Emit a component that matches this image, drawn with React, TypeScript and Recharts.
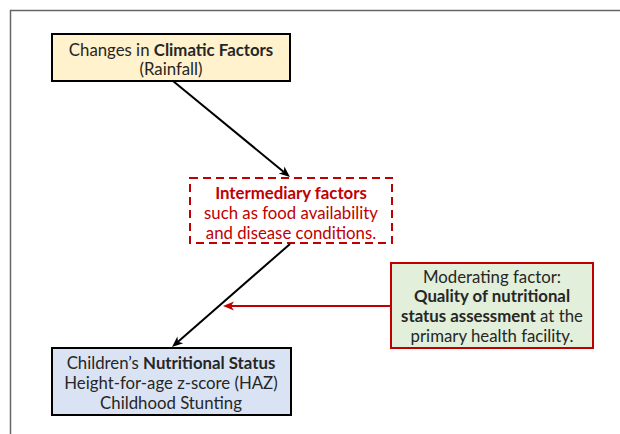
import React from 'react';
import { ScatterChart, Scatter, XAxis, YAxis, ReferenceArea, ReferenceLine } from 'recharts';

// box outlines, in page pixels (the axes map 1:1 onto the 620x434 canvas)
const boxes = [
  { id: 'climate', x1: 52, x2: 290, y1: 34, y2: 81, fill: '#FFF2CC', stroke: '#000000', dash: '' },
  { id: 'inter', x1: 190, x2: 392, y1: 178, y2: 243, fill: 'none', stroke: '#C00000', dash: '8 5' },
  { id: 'moder', x1: 391, x2: 593, y1: 263, y2: 348, fill: '#E2EFDA', stroke: '#C00000', dash: '' },
  { id: 'status', x1: 52, x2: 291, y1: 348, y2: 415, fill: '#DAE3F3', stroke: '#000000', dash: '' },
];

// text blocks: centre of first line + lines; **x** marks bold runs
const labels = [
  { x: 171, y: 48.5, color: '#262626', lines: ['Changes in **Climatic Factors**', '(Rainfall)'] },
  { x: 291, y: 192, color: '#C00000', lines: ['**Intermediary factors**', 'such as food availability', 'and disease conditions.'] },
  { x: 492, y: 275.5, color: '#262626', lines: ['Moderating factor:', '**Quality of nutritional**', '**status assessment** at the', 'primary health facility.'] },
  { x: 171, y: 362, color: '#262626', lines: ['Children\u2019s **Nutritional Status**', 'Height-for-age z-score (HAZ)', 'Childhood Stunting'] },
];

const arrows = [
  { from: [173, 81], to: [290, 177], color: '#000000' },
  { from: [290, 244], to: [172, 347], color: '#000000' },
  { from: [391, 306], to: [223, 306], color: '#C00000' },
];

const LINE_H = 19.8;

const TextBlock = (props: any) => {
  const { cx, cy, payload } = props;
  return (
    <g>
      {payload.lines.map((ln: string, i: number) => {
        const parts = ln.split('**');
        return (
          <text key={i} x={cx} y={cy + i * LINE_H} textAnchor="middle" dominantBaseline="central"
            fontFamily="Lato, 'Open Sans', sans-serif" fontSize={16.8} fill={payload.color}>
            {parts.map((p, j) => (
              <tspan key={j} fontWeight={j % 2 === 1 ? 'bold' : 'normal'}>{p}</tspan>
            ))}
          </text>
        );
      })}
    </g>
  );
};

const Arrow = (color: string) => (props: any) => {
  const { x1, y1, x2, y2 } = props;
  if (x1 == null) return null;
  const ang = Math.atan2(y2 - y1, x2 - x1);
  const len = 11, half = 4.5;
  const bx = x2 - len * Math.cos(ang), by = y2 - len * Math.sin(ang);
  const px = -Math.sin(ang) * half, py = Math.cos(ang) * half;
  const nx = bx + 3 * Math.cos(ang), ny = by + 3 * Math.sin(ang);
  return (
    <g>
      <line x1={x1} y1={y1} x2={nx} y2={ny} stroke={color} strokeWidth={2} />
      <polygon points={`${x2},${y2} ${bx + px},${by + py} ${nx},${ny} ${bx - px},${by - py}`} fill={color} />
    </g>
  );
};

export default function App() {
  return (
    <div style={{ position: 'absolute', left: 0, top: 0, background: '#fff' }}>
      <ScatterChart width={620} height={434} margin={{ top: 0, right: 0, bottom: 0, left: 0 }}>
        <XAxis type="number" dataKey="x" domain={[0, 620]} hide allowDataOverflow />
        <YAxis type="number" dataKey="y" domain={[0, 434]} reversed hide allowDataOverflow />
        {/* page frame */}
        <ReferenceLine segment={[{ x: 10.5, y: 10 }, { x: 10.5, y: 434 }]} stroke="#666" strokeWidth={1.5} ifOverflow="visible" />
        <ReferenceLine segment={[{ x: 10, y: 10.5 }, { x: 620, y: 10.5 }]} stroke="#666" strokeWidth={1.5} ifOverflow="visible" />
        {boxes.map((b) => (
          <ReferenceArea key={b.id} x1={b.x1} x2={b.x2} y1={b.y1} y2={b.y2} fill={b.fill} fillOpacity={1}
            stroke={b.stroke} strokeWidth={2} strokeDasharray={b.dash} ifOverflow="visible" />
        ))}
        {arrows.map((a, i) => (
          <ReferenceLine key={i} segment={[{ x: a.from[0], y: a.from[1] }, { x: a.to[0], y: a.to[1] }]}
            shape={Arrow(a.color)} ifOverflow="visible" />
        ))}
        <Scatter data={labels} shape={TextBlock} isAnimationActive={false} />
      </ScatterChart>
    </div>
  );
}
